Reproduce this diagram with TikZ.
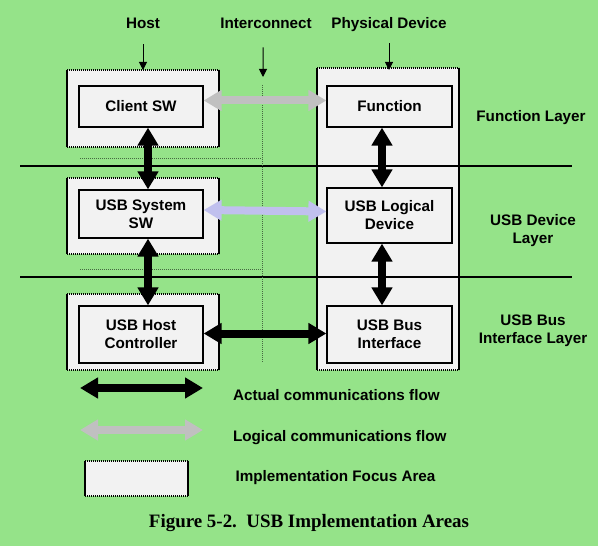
\documentclass[tikz,border=0pt]{standalone}
\usepackage{fontspec}
\setmainfont{Liberation Sans}
\newfontfamily\captionfont{Liberation Serif}
\usetikzlibrary{
    arrows.meta,
    positioning
}
\definecolor{bggreen}{RGB}{149,227,137}
\definecolor{boxgray}{RGB}{242,242,242}
\definecolor{flowgray}{RGB}{192,192,192}
\definecolor{flowblue}{RGB}{192,192,238}
\definecolor{dotgreen}{RGB}{70,105,65}

\begin{document}
\begin{tikzpicture}[x=1bp, y=-1bp,
    every node/.style={font=\fontsize{15.3}{18}\selectfont\bfseries, align=center},
    layer/.style={draw, line width=1.2bp, fill=boxgray, minimum width=124bp, inner sep=0pt},
    flow/.style={line width=8bp, >={Triangle[length=18bp,width=20bp]}, <->},
    pointer/.style={line width=1bp, >={Triangle[length=8bp,width=8bp]}, ->},
    focusedge/.style={line width=1.5bp, dash pattern=on 1bp off 1bp},
    dots/.style={dotgreen, line width=1bp, dash pattern=on 1bp off 1bp}]
                        \fill[bggreen] (0,0) rectangle (598,546);
                        \useasboundingbox (0,0) rectangle (598,546);
                        % focus areas
                        \foreach \xa/\ya/\xb/\yb in {67/70/219/147, 67/178/219/254, 67/294/219/370, 317/68/459/370, 85/461/188/496} {
                            \fill[boxgray] (\xa,\ya) rectangle (\xb,\yb);
                            \draw[line width=1.2bp] (\xa,\ya) -- (\xa,\yb) (\xb,\ya) -- (\xb,\yb);
                            \draw[focusedge] (\xa,\ya) -- (\xb,\ya) (\xa,\yb) -- (\xb,\yb);
                        }
                        \draw[line width=1.5bp] (20,166) -- (572,166) (20,277) -- (572,277);
                        \draw[dots] (80,159) -- (262,159) (80,269) -- (262,269) (262,85) -- (262,362);
                        % columns
                        \node[anchor=base] (host) at (143,28.5) {Host};
                        \node[anchor=base] (ic) at (266,28.5) {Interconnect};
                        \node[anchor=base] (pd) at (389,28.5) {Physical Device};
                        \coordinate (hostTip) at (143,70);
                        \coordinate (icTip) at (263,77);
                        \coordinate (pdTip) at (389,70);
                        \draw[pointer] ([yshift=-16bp]host.base) -- (hostTip);
                        \draw[pointer] ([xshift=-3bp,yshift=-19bp]ic.base) -- (icTip);
                        \draw[pointer] ([yshift=-15bp]pd.base) -- (pdTip);
                        % layers
                        \node[layer, minimum height=41bp] (csw) at (141,106.5) {Client SW};
                        \node[layer, minimum height=48bp] (ssw) at (141,214) {USB System\\SW};
                        \node[layer, minimum height=57bp] (hc) at (141,334.5) {USB Host\\Controller};
                        \node[layer, minimum height=41bp, minimum width=125bp] (fn) at (389.5,106.5) {Function};
                        \node[layer, minimum height=55bp, minimum width=125bp] (ld) at (389.5,215.5) {USB Logical\\Device};
                        \node[layer, minimum height=57bp, minimum width=125bp] (bi) at (389.5,334.5) {USB Bus\\Interface};
                        \node (fl) at (531,118) {Function Layer};
                        \node (dl) at (533,231) {USB Device\\Layer};
                        \node (bl) at (533,330.5) {USB Bus\\Interface Layer};
                        \draw
                        ([yshift=6bp]csw.east) edge[flow, flowgray] ([yshift=6bp]fn.west)
                        ([yshift=4bp]ssw.east) edge[flow, flowblue] ([yshift=4bp]ld.west)
                        ([yshift=1bp]hc.east) edge[flow] ([yshift=1bp]bi.west)
                        ([xshift=7bp]csw.south) edge[flow] ([xshift=7bp]ssw.north)
                        ([xshift=7bp]ssw.south) edge[flow] ([xshift=7bp]hc.north)
                        ([xshift=-7.5bp]fn.south) edge[flow] ([xshift=-7.5bp]ld.north)
                        ([xshift=-7.5bp]ld.south) edge[flow] ([xshift=-7.5bp]bi.north);
                        % legend
                        \coordinate (actA) at (80,388);
                        \coordinate (actB) at (203,388);
                        \coordinate (logA) at (80,430);
                        \coordinate (logB) at (203,430);
                        \draw[flow] (actA) -- (actB);
                        \draw[flow, flowgray] (logA) -- (logB);
                        \node[anchor=base west] (actual) at (229.5,400) {Actual communications flow};
                        \node[anchor=base west] (logical) at (229.5,441) {Logical communications flow};
                        \node[anchor=base west] (focus) at (232,481) {Implementation Focus Area};
                        \node[anchor=base, font=\captionfont\bfseries\fontsize{19}{21}\selectfont] (cap) at (309,527) {Figure 5-2.\ \ USB Implementation Areas};
                    \end{tikzpicture}
\end{document}
